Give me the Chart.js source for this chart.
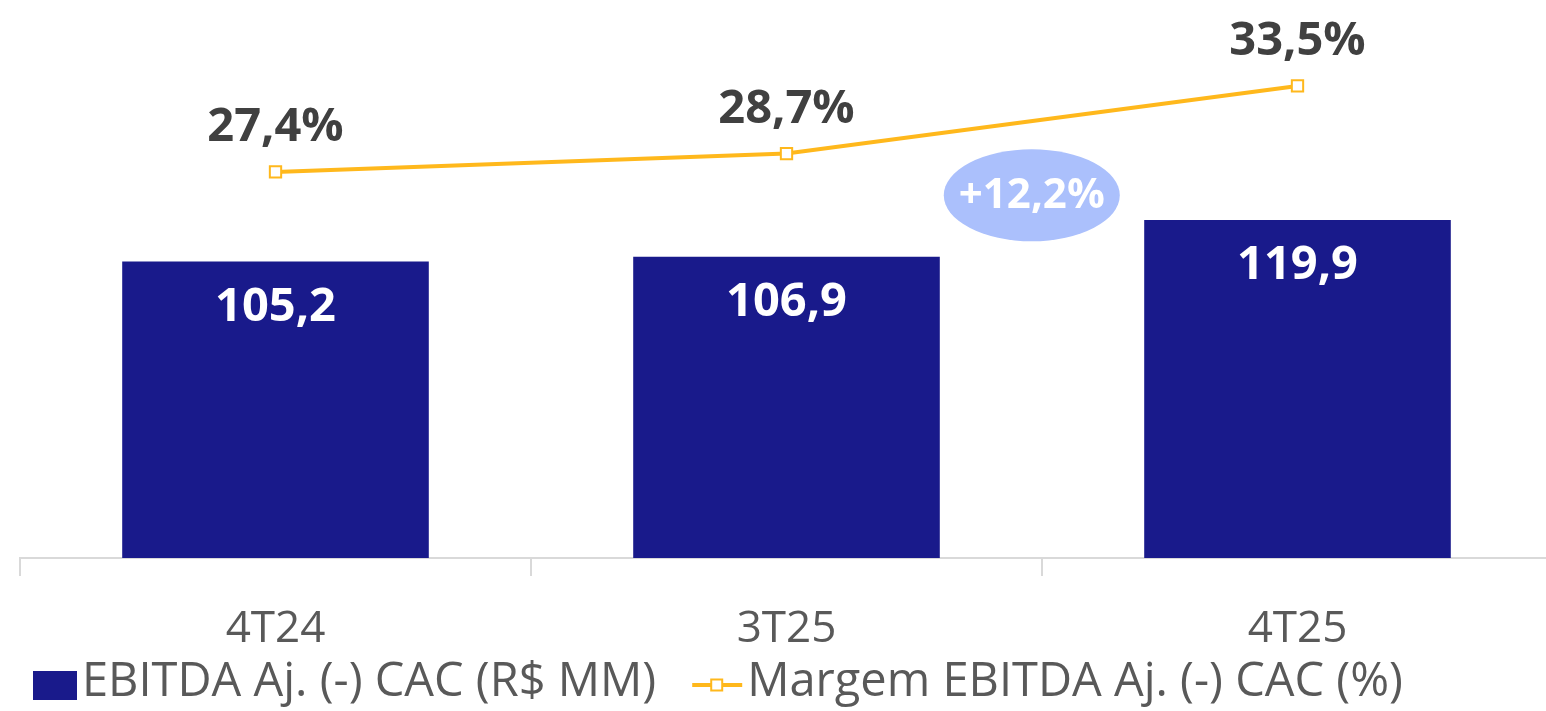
<!DOCTYPE html>
<html><head><meta charset="utf-8">
<script src="https://cdn.jsdelivr.net/npm/chart.js@4/dist/chart.umd.min.js"></script>
<style>
html,body{margin:0;padding:0;background:#fff;overflow:hidden;width:1546px;height:711px}
canvas{display:block}
</style></head><body>
<canvas id="c" width="1553" height="711"></canvas>
<script>
const categories = ['4T24', '3T25', '4T25'];
const ebitdaValues = [105.2, 106.9, 119.9];
const marginValues = [27.4, 28.7, 33.5];
const barSeriesName = 'EBITDA Aj. (-) CAC (R$ MM)';
const lineSeriesName = 'Margem EBITDA Aj. (-) CAC (%)';
const growthText = '+12,2%';

const FONT = "'Open Sans', 'Noto Sans', sans-serif";
const BAR_COLOR = '#191A8B';
const LINE_COLOR = '#FFB81C';
const fmt = v => v.toFixed(1).replace('.', ',');

const valueLabels = {
  id: 'valueLabels',
  afterDatasetsDraw(chart) {
    const ctx = chart.ctx;
    ctx.save();
    ctx.textAlign = 'center';
    ctx.textBaseline = 'middle';
    const barMeta = chart.getDatasetMeta(1);
    ctx.font = 'bold 47px ' + FONT;
    ctx.fillStyle = '#FFFFFF';
    barMeta.data.forEach((el, i) => {
      ctx.fillText(fmt(ebitdaValues[i]), el.x, el.y + 46);
    });
    const lineMeta = chart.getDatasetMeta(0);
    ctx.fillStyle = '#404040';
    lineMeta.data.forEach((el, i) => {
      ctx.fillText(fmt(marginValues[i]) + '%', el.x, el.y - 44);
    });
    // growth bubble between 3T25 and 4T25
    const xs = chart.scales.x, ys = chart.scales.y;
    const cx = xs.getPixelForValue(1.48);
    const cy = ys.getPixelForValue(128.7);
    ctx.fillStyle = '#ABC0FC';
    ctx.beginPath();
    ctx.ellipse(cx, cy, 88, 46, 0, 0, Math.PI * 2);
    ctx.fill();
    ctx.fillStyle = '#FFFFFF';
    ctx.font = 'bold 42px ' + FONT;
    ctx.fillText(growthText, cx, cy + 1);
    ctx.restore();
  }
};

const customLegend = {
  id: 'customLegend',
  afterDraw(chart) {
    const ctx = chart.ctx;
    ctx.save();
    const cy = 685;
    let x = 33;
    ctx.fillStyle = BAR_COLOR;
    ctx.fillRect(x, 671, 44, 29);
    x += 44 + 5;
    ctx.font = '47px ' + FONT;
    ctx.fillStyle = '#595959';
    ctx.textBaseline = 'middle';
    ctx.textAlign = 'left';
    ctx.fillText(barSeriesName, x, cy - 2);
    x += ctx.measureText(barSeriesName).width + 36;
    ctx.strokeStyle = LINE_COLOR;
    ctx.lineWidth = 4;
    ctx.beginPath();
    ctx.moveTo(x, cy);
    ctx.lineTo(x + 50, cy);
    ctx.stroke();
    ctx.fillStyle = '#FFFFFF';
    ctx.lineWidth = 2;
    ctx.fillRect(x + 19, cy - 5.5, 11, 11);
    ctx.strokeRect(x + 19, cy - 5.5, 11, 11);
    x += 50 + 5;
    ctx.fillStyle = '#595959';
    ctx.fillText(lineSeriesName, x, cy - 2);
    ctx.restore();
  }
};

new Chart(document.getElementById('c'), {
  data: {
    labels: categories,
    datasets: [
      {
        type: 'line',
        label: lineSeriesName,
        data: marginValues,
        yAxisID: 'y1',
        borderColor: LINE_COLOR,
        borderWidth: 4,
        backgroundColor: '#FFFFFF',
        pointStyle: 'rect',
        pointRadius: 8,
        pointBorderWidth: 2,
        pointBorderColor: LINE_COLOR,
        pointBackgroundColor: '#FFFFFF',
        tension: 0,
        clip: false,
        order: 0
      },
      {
        type: 'bar',
        label: barSeriesName,
        data: ebitdaValues,
        yAxisID: 'y',
        backgroundColor: BAR_COLOR,
        categoryPercentage: 1,
        barPercentage: 0.6,
        order: 1
      }
    ]
  },
  options: {
    responsive: false,
    maintainAspectRatio: false,
    animation: false,
    layout: { autoPadding: false, padding: { left: 20, right: 0, top: 0, bottom: 28 } },
    plugins: { legend: { display: false }, tooltip: { enabled: false } },
    scales: {
      x: {
        offset: true,
        grid: { display: true, drawOnChartArea: false, drawTicks: true, tickLength: 18, color: '#D9D9D9', lineWidth: 2 },
        border: { display: true, color: '#D9D9D9', width: 2 },
        ticks: { color: '#595959', padding: 26, font: { family: FONT, size: 44, lineHeight: 1.25 } }
      },
      y: { display: false, min: 0, max: 198 },
      y1: { display: false, min: 0, max: 39.6, position: 'right' }
    }
  },
  plugins: [valueLabels, customLegend]
});
</script>
</body></html>
